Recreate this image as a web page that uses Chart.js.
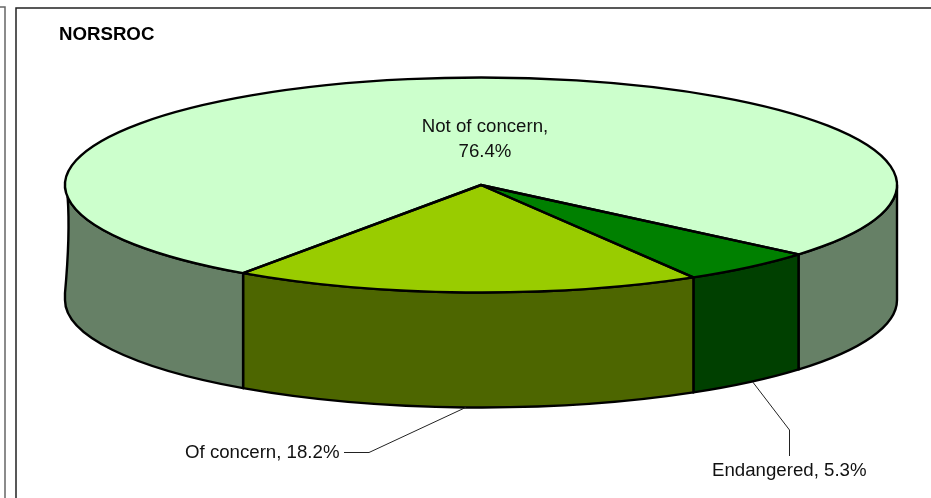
<!DOCTYPE html>
<html>
<head>
<meta charset="utf-8">
<title>NORSROC</title>
<script src="https://cdn.jsdelivr.net/npm/chart.js@4/dist/chart.umd.js"></script>
<style>
    html, body { margin: 0; padding: 0; background: #fff; overflow: hidden; }
    canvas { display: block; }
</style>
</head>
<body>
<canvas id="pieChart" width="931" height="498"></canvas>
<script>
// Data
const categories = ['Endangered', 'Of concern', 'Not of concern'];
const shares = [5.3, 18.2, 76.4];
const chartTitle = 'NORSROC';

// Colours
const topColours = ['#008000', '#99CC00', '#CCFFCC'];
const wallColours = ['#004000', '#4D6600', '#668066'];

// Tilted disc: where the flat pie ends up on the page
const disc = { cx: 481, cy: 185, rx: 416, ry: 107.5, depth: 115 };
const firstSliceAngle = 130.2;
const labelFont = '18.67px "Liberation Sans", Arial, sans-serif';
const outlineWidth = 2.4;

// Path of one slice's front wall between two angles
function wallPath(ctx, a0, a1, wavyEnd) {
    const { cx, cy, rx, ry, depth } = disc;
    ctx.beginPath();
    ctx.ellipse(cx, cy, rx, ry, 0, a0, a1);
    if (wavyEnd) {
        // the left edge of the reference is not straight
        const topEnd = Math.PI - 0.113;
        ctx.beginPath();
        ctx.ellipse(cx, cy, rx, ry, 0, a0, topEnd);
        ctx.bezierCurveTo(cx - rx + 5, cy + 45, cx - rx + 3, cy + 75, cx - rx, cy + depth - 7);
    } else {
        ctx.lineTo(cx + rx * Math.cos(a1), cy + depth + ry * Math.sin(a1));
    }
    ctx.ellipse(cx, cy + depth, rx, ry, 0, a1, a0, true);
    ctx.closePath();
}

const tiltedPie = {
    id: 'tiltedPie',
    beforeDraw(chart) {
        // frames around the chart
        const ctx = chart.ctx;
        ctx.save();
        ctx.strokeStyle = '#666';
        ctx.lineWidth = 1.5;
        ctx.beginPath();
        ctx.moveTo(0, 7);
        ctx.lineTo(5, 7);
        ctx.lineTo(5, 498);
        ctx.stroke();
        ctx.strokeStyle = '#222';
        ctx.beginPath();
        ctx.moveTo(16, 498);
        ctx.lineTo(16, 8);
        ctx.lineTo(931, 8);
        ctx.stroke();
        ctx.restore();
    },
    beforeDatasetsDraw(chart) {
        const ctx = chart.ctx;
        const arcs = chart.getDatasetMeta(0).data;
        const { cx, cy, rx, ry } = disc;

        // front walls, taken from the angles the library worked out
        ctx.save();
        ctx.strokeStyle = '#000';
        ctx.lineWidth = outlineWidth;
        ctx.lineJoin = 'round';
        arcs.forEach((arc, i) => {
            [0, 2 * Math.PI].forEach(turn => {
                const a0 = Math.max(arc.startAngle, turn);
                const a1 = Math.min(arc.endAngle, turn + Math.PI);
                if (a1 <= a0) return;
                wallPath(ctx, a0, a1, turn === 0 && a1 === Math.PI);
                ctx.fillStyle = wallColours[i];
                ctx.fill();
                ctx.stroke();
            });
        });
        ctx.restore();

        // squash the pie the library draws into the top of the disc
        const first = arcs[0];
        ctx.save();
        ctx.translate(cx, cy);
        ctx.scale(rx / first.outerRadius, ry / first.outerRadius);
        ctx.translate(-first.x, -first.y);
    },
    afterDatasetsDraw(chart) {
        const ctx = chart.ctx;
        ctx.restore();

        const arcs = chart.getDatasetMeta(0).data;
        const { cx, cy, rx, ry, depth } = disc;

        // slice outlines keep an even width
        ctx.save();
        ctx.strokeStyle = '#000';
        ctx.lineWidth = outlineWidth;
        ctx.lineJoin = 'round';
        arcs.forEach(arc => {
            ctx.beginPath();
            ctx.moveTo(cx, cy);
            ctx.ellipse(cx, cy, rx, ry, 0, arc.startAngle, arc.endAngle);
            ctx.closePath();
            ctx.stroke();
        });
        ctx.restore();

        // leader lines start under the middle of their slice
        const footOf = i => {
            const mid = (arcs[i].startAngle + arcs[i].endAngle) / 2;
            return [cx + rx * Math.cos(mid), cy + depth + ry * Math.sin(mid)];
        };
        ctx.save();
        ctx.strokeStyle = '#222';
        ctx.lineWidth = 1;
        const endangeredFoot = footOf(0);
        ctx.beginPath();
        ctx.moveTo(endangeredFoot[0] + 3, endangeredFoot[1]);
        ctx.lineTo(789.5, 430);
        ctx.lineTo(789.5, 456);
        ctx.stroke();
        const concernFoot = footOf(1);
        ctx.beginPath();
        ctx.moveTo(concernFoot[0], concernFoot[1]);
        ctx.lineTo(369, 452.5);
        ctx.lineTo(344, 452.5);
        ctx.stroke();
        ctx.restore();

        // data labels
        const text = i => categories[i] + ', ' + shares[i].toFixed(1) + '%';
        ctx.save();
        ctx.font = labelFont;
        ctx.fillStyle = '#111';
        ctx.textBaseline = 'middle';
        ctx.textAlign = 'center';
        ctx.fillText(categories[2] + ',', 485, 127);
        ctx.fillText(shares[2].toFixed(1) + '%', 485, 152);
        ctx.textAlign = 'left';
        ctx.fillText(text(1), 185, 453);
        ctx.fillText(text(0), 712, 471);
        ctx.restore();
    }
};

new Chart(document.getElementById('pieChart'), {
    type: 'pie',
    data: {
        labels: categories,
        datasets: [{
            data: shares,
            backgroundColor: topColours,
            borderWidth: 0,
            clip: false
        }]
    },
    options: {
        responsive: false,
        animation: false,
        rotation: firstSliceAngle,
        layout: { padding: { left: 59, top: 24, right: 20, bottom: 20 } },
        plugins: {
            legend: { display: false },
            tooltip: { enabled: false },
            title: {
                display: true,
                text: chartTitle,
                align: 'start',
                color: '#000',
                font: { family: '"Liberation Sans", Arial, sans-serif', size: 18.67, weight: 'bold' },
                padding: 0
            }
        }
    },
    plugins: [tiltedPie]
});
</script>
</body>
</html>
